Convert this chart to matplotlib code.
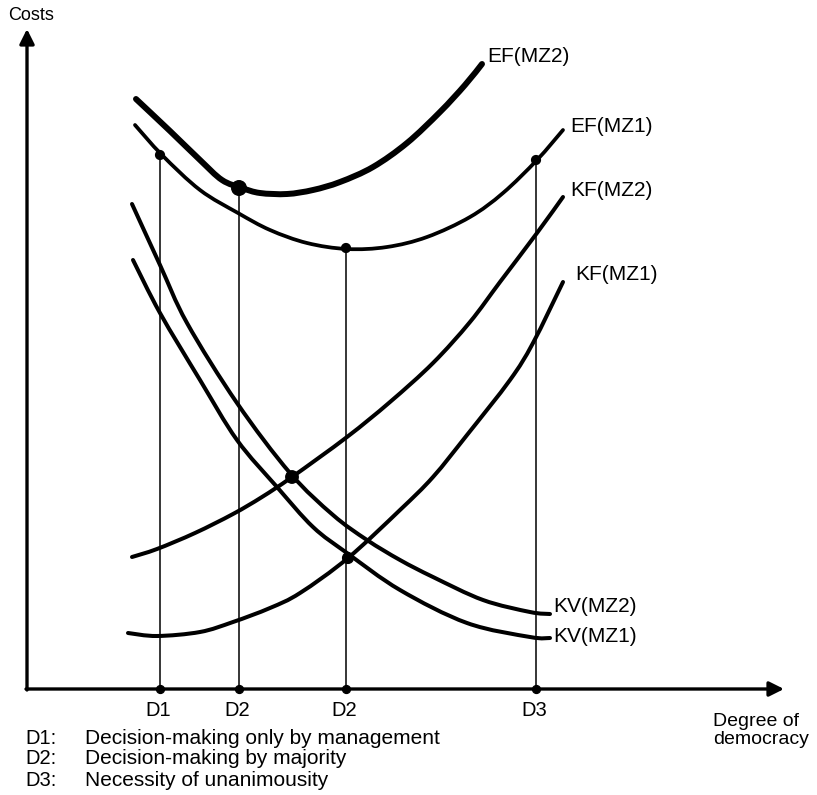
"""Schematic: costs vs degree of democracy (EF / KF / KV curves for MZ1, MZ2)."""
import matplotlib
matplotlib.use("Agg")
import matplotlib.pyplot as plt
from matplotlib.path import Path
from matplotlib.patches import PathPatch

plt.rcParams["font.family"] = ["Liberation Sans", "DejaVu Sans"]

# curve points (x = degree of democracy, y = costs, arbitrary units)
EF_MZ2_X = [109, 143, 173, 195, 215, 233, 260, 286, 313, 346, 380, 413, 438, 455]
EF_MZ2_Y = [590, 558, 529, 509, 501, 496, 495, 499, 507, 522, 546, 577, 604, 625]
EF_MZ1_X = [108, 135, 173, 211, 243, 280, 320, 360, 400, 443, 476, 510, 536]
EF_MZ1_Y = [564, 534, 499, 476, 459, 446, 440, 442, 452, 472, 496, 529, 559]
KF_MZ2_X = [105, 130, 168, 206, 235, 265, 320, 363, 406, 443, 473, 510, 536]
KF_MZ2_Y = [132, 140, 156, 175, 192, 212, 252, 287, 326, 367, 407, 456, 492]
KF_MZ1_X = [101, 130, 173, 206, 243, 273, 321, 373, 406, 440, 483, 506, 536]
KF_MZ1_Y = [56, 53, 57, 67, 81, 96, 131, 179, 212, 254, 309, 346, 407]
KV_MZ2_X = [105, 133, 160, 210, 263, 306, 340, 373, 406, 456, 503, 523]
KV_MZ2_Y = [485, 424, 366, 286, 216, 174, 149, 129, 112, 89, 77, 75]
KV_MZ1_X = [106, 133, 173, 210, 250, 286, 320, 373, 440, 503, 523]
KV_MZ1_Y = [429, 376, 309, 249, 202, 162, 136, 99, 66, 52, 51]

# decision levels on the x axis and where their drop lines meet the EF curves
D_LABELS = ["D1", "D2", "D2", "D3"]
D_POS = [133, 212, 319, 509]
D_TOP = [534, 501, 441, 529]

# marked intersections KF x KV
CROSS_X = [265, 321]
CROSS_Y = [212, 131]

LEGEND = [("D1:", "Decision-making only by management"),
          ("D2:", "Decision-making by majority"),
          ("D3:", "Necessity of unanimousity")]


def smooth_curve(ax, xs, ys, lw):
    """Draw a hand-drawn-looking curve through the read points (Catmull-Rom as Bezier)."""
    pts = list(zip(xs, ys))
    ext = [pts[0]] + pts + [pts[-1]]
    verts, codes = [pts[0]], [Path.MOVETO]
    for i in range(1, len(ext) - 2):
        p0, p1, p2, p3 = ext[i - 1], ext[i], ext[i + 1], ext[i + 2]
        c1 = (p1[0] + (p2[0] - p0[0]) / 6, p1[1] + (p2[1] - p0[1]) / 6)
        c2 = (p2[0] - (p3[0] - p1[0]) / 6, p2[1] - (p3[1] - p1[1]) / 6)
        verts += [c1, c2, p2]
        codes += [Path.CURVE4] * 3
    ax.add_patch(PathPatch(Path(verts, codes), fill=False, lw=lw, edgecolor="black",
                           capstyle="round", joinstyle="round"))


fig = plt.figure(figsize=(8.17, 7.95), dpi=100)
ax = fig.add_axes([0, 0, 1, 1])
ax.set_xlim(-27, 790)
ax.set_ylim(-106, 689)
ax.axis("off")

# axes with arrows
ax.annotate("", xy=(757, 0), xytext=(-1, 0),
            arrowprops=dict(arrowstyle="-|>", lw=2.4, color="black", mutation_scale=22,
                            shrinkA=0, shrinkB=0))
ax.annotate("", xy=(0, 660), xytext=(0, -1),
            arrowprops=dict(arrowstyle="-|>", lw=2.4, color="black", mutation_scale=22,
                            shrinkA=0, shrinkB=0))

# drop lines
ax.vlines(D_POS, 0, D_TOP, color="black", lw=1.1)

smooth_curve(ax, EF_MZ2_X, EF_MZ2_Y, 4.3)
smooth_curve(ax, EF_MZ1_X, EF_MZ1_Y, 2.7)
smooth_curve(ax, KF_MZ2_X, KF_MZ2_Y, 2.9)
smooth_curve(ax, KF_MZ1_X, KF_MZ1_Y, 2.9)
smooth_curve(ax, KV_MZ2_X, KV_MZ2_Y, 2.9)
smooth_curve(ax, KV_MZ1_X, KV_MZ1_Y, 2.9)

# dots (the one on EF(MZ2) is drawn heavier in the original)
ax.scatter(D_POS, D_TOP, s=[40, 110, 40, 40], color="black", zorder=3)
ax.scatter(D_POS, [0] * len(D_POS), s=32, color="black", zorder=3)
ax.scatter(CROSS_X, CROSS_Y, s=[80, 60], color="black", zorder=3)

# curve labels
lab = dict(fontsize=15, va="center", ha="left")
ax.text(460, 632, "EF(MZ2)", **lab)
ax.text(543, 562, "EF(MZ1)", **lab)
ax.text(543, 499, "KF(MZ2)", **lab)
ax.text(548, 414, "KF(MZ1)", **lab)
ax.text(526, 82, "KV(MZ2)", **lab)
ax.text(526, 52, "KV(MZ1)", **lab)

ax.text(-19, 674, "Costs", fontsize=13, va="center", ha="left")
for x, s in zip(D_POS, D_LABELS):
    ax.text(x - 2, -22, s, fontsize=14.5, va="center", ha="center")
ax.text(686, -33, "Degree of", fontsize=14, va="center", ha="left")
ax.text(686, -51, "democracy", fontsize=14, va="center", ha="left")

for i, (key, desc) in enumerate(LEGEND):
    y = -49 - 21 * i
    ax.text(-2, y, key, fontsize=14.5, va="center", ha="left")
    ax.text(58, y, desc, fontsize=15, va="center", ha="left")

fig.savefig("out.png", dpi=100)
